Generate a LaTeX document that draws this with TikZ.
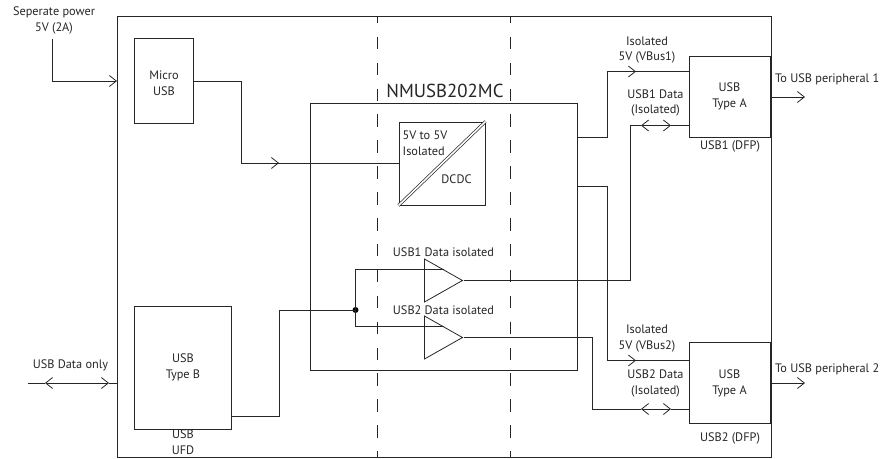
\documentclass[tikz,border=0pt]{standalone}
\usepackage{fontspec}
\setmainfont{PT Sans}
\usetikzlibrary{arrows.meta,shapes.geometric}
\tikzset{
  block/.style={draw=black!85,fill=white,line width=1pt,inner sep=0pt},
  lbl/.style={inner sep=0pt,align=center,text=black!85,font=\fontsize{12.3}{15.5}\selectfont},
  wire/.style={draw=black!85,line width=1pt},
  barrier/.style={wire,dash pattern=on 12.5pt off 13.4pt,dash phase=5.2pt},
  buffer/.style={isosceles triangle,isosceles triangle stretches,draw=black!85,fill=white,line width=.8pt,
                 inner sep=0pt,minimum width=43,minimum height=38},
  tip/.style={-{Straight Barb[length=7pt,width=11pt,line width=.8pt]}},
  tips/.style={{Straight Barb[length=7pt,width=11pt,line width=.8pt]}-{Straight Barb[length=7pt,width=11pt,line width=.8pt]}}
}
\begin{document}
\begin{tikzpicture}[x=1pt,y=-1pt]
  \useasboundingbox (0,0) rectangle (893,458);

  % frames and isolation barrier
  \node[block,minimum width=654,minimum height=441] (board) at (444,236.5) {};
  \draw[barrier] (377.5,16) -- (377.5,457);
  \draw[barrier] (510.5,16) -- (510.5,457);
  \draw[wire] (310.5,103.5) rectangle (577,370);

  % blocks
  \node[block,minimum width=59,minimum height=85.5] (micro) at (164,81.2) {};
  \node[block,minimum width=96.5,minimum height=122.5] (typeb) at (182.8,367.8) {};
  \node[block,minimum width=81,minimum height=81] (typea1) at (730,96.5) {};
  \node[block,minimum width=81,minimum height=81] (typea2) at (730,383) {};
  \node[block,minimum width=86,minimum height=83] (dcdc) at (442,163.5) {};
  \node[buffer] (buf1) at (437,280.5) {};
  \node[buffer] (buf2) at (437,337.5) {};
  \fill (355.5,310) circle (3pt) coordinate (join);
  \draw[draw=black!85,line width=.7pt,double=white,double distance=1.6pt] (dcdc.south west) -- (dcdc.north east);

  % bends and arrow positions
  \coordinate (pwr) at (52,39);
  \coordinate (pwrin) at (117,81);
  \coordinate (m1) at (241,81);
  \coordinate (m2) at (241,163);
  \coordinate (m3) at (279,163);
  \coordinate (b1) at (279.5,416.5);
  \coordinate (b2) at (279.5,310);
  \coordinate (d0) at (28,383);
  \coordinate (d1) at (45,383);
  \coordinate (d2) at (109,383);
  \coordinate (v1) at (577,137);
  \coordinate (v2) at (607,137);
  \coordinate (v3) at (607,71.5);
  \coordinate (v4) at (636,71.5);
  \coordinate (w1) at (577,186.5);
  \coordinate (w2) at (607,186.5);
  \coordinate (w3) at (607,360.5);
  \coordinate (w4) at (636,360.5);
  \coordinate (s1) at (630,280.5);
  \coordinate (s2) at (630,125.5);
  \coordinate (s3) at (641,125.5);
  \coordinate (s4) at (671,125.5);
  \coordinate (t1) at (592,337.5);
  \coordinate (t2) at (592,409);
  \coordinate (t3) at (641,409);
  \coordinate (t4) at (671,409);
  \coordinate (o1) at (805,97);
  \coordinate (o2) at (805,383);

  % connectors
  \draw[wire,tip] (pwr) |- (pwrin);
  \draw[wire] (micro.east |- m1) -- (m1) -- (m2) -- (m3);
  \draw[wire,tip] (m2) -- (m3);
  \draw[wire] (m3) -- (dcdc.west |- m3);
  \draw[wire] (typeb.east |- b1) -- (b1) -- (b2) -- (join);
  \draw[wire] (buf1.left side) -| (join) |- (buf2.left side);
  \draw[wire,tips] (d1) -- (d2);
  \draw[wire] (d0) -- (d1) (d2) -- (pwrin |- d2);
  \draw[wire] (v1) -- (v2) -- (v3) -- (typea1.west |- v3);
  \draw[wire,tip] (v3) -- (v4);
  \draw[wire] (w1) -- (w2) -- (w3) -- (typea2.west |- w3);
  \draw[wire,tip] (w3) -- (w4);
  \draw[wire] (buf1.apex) -- (s1) -- (s2) -- (s3);
  \draw[wire,tips] (s3) -- (s4);
  \draw[wire] (s4) -- (typea1.west |- s4);
  \draw[wire] (buf2.apex) -- (t1) -- (t2) -- (t3);
  \draw[wire,tips] (t3) -- (t4);
  \draw[wire] (t4) -- (typea2.west |- t4);
  \draw[wire,tip] (typea1.east |- o1) -- (o1);
  \draw[wire,tip] (typea2.east |- o2) -- (o2);

  % labels
  \node[lbl] (l1) at (54,20.5) {Seperate power\\5V (2A)};
  \node[lbl] (l2) at (164,83) {Micro\\USB};
  \node[lbl] (l3) at (183,367.5) {USB\\Type B};
  \node[lbl] (l4) at (183,442) {USB\\UFD};
  \node[lbl] (l5) at (70.5,365) {USB Data only};
  \node[lbl,font=\fontsize{18.8}{20}\selectfont] (l6) at (445,91) {NMUSB202MC};
  \node[lbl,align=left,anchor=west] (l7) at (402.5,143.3) {5V to 5V\\Isolated};
  \node[lbl] (l8) at (456.5,179) {DCDC};
  \node[lbl] (l9) at (443.5,252) {USB1 Data isolated};
  \node[lbl] (l10) at (443.5,310) {USB2 Data isolated};
  \node[lbl] (l11) at (647,49.8) {Isolated\\5V (VBus1)};
  \node[lbl] (l12) at (655.5,103) {USB1 Data\\(Isolated)};
  \node[lbl] (l13) at (729.5,96.5) {USB\\Type A};
  \node[lbl] (l14) at (730,146.5) {USB1 (DFP)};
  \node[lbl,anchor=west] (l15) at (775,79) {To USB peripheral 1};
  \node[lbl] (l16) at (647,338.5) {Isolated\\5V (VBus2)};
  \node[lbl] (l17) at (655.5,383.5) {USB2 Data\\(Isolated)};
  \node[lbl] (l18) at (729.5,383.5) {USB\\Type A};
  \node[lbl] (l19) at (730,438) {USB2 (DFP)};
  \node[lbl,anchor=west] (l20) at (775,369) {To USB peripheral 2};
\end{tikzpicture}
\end{document}
